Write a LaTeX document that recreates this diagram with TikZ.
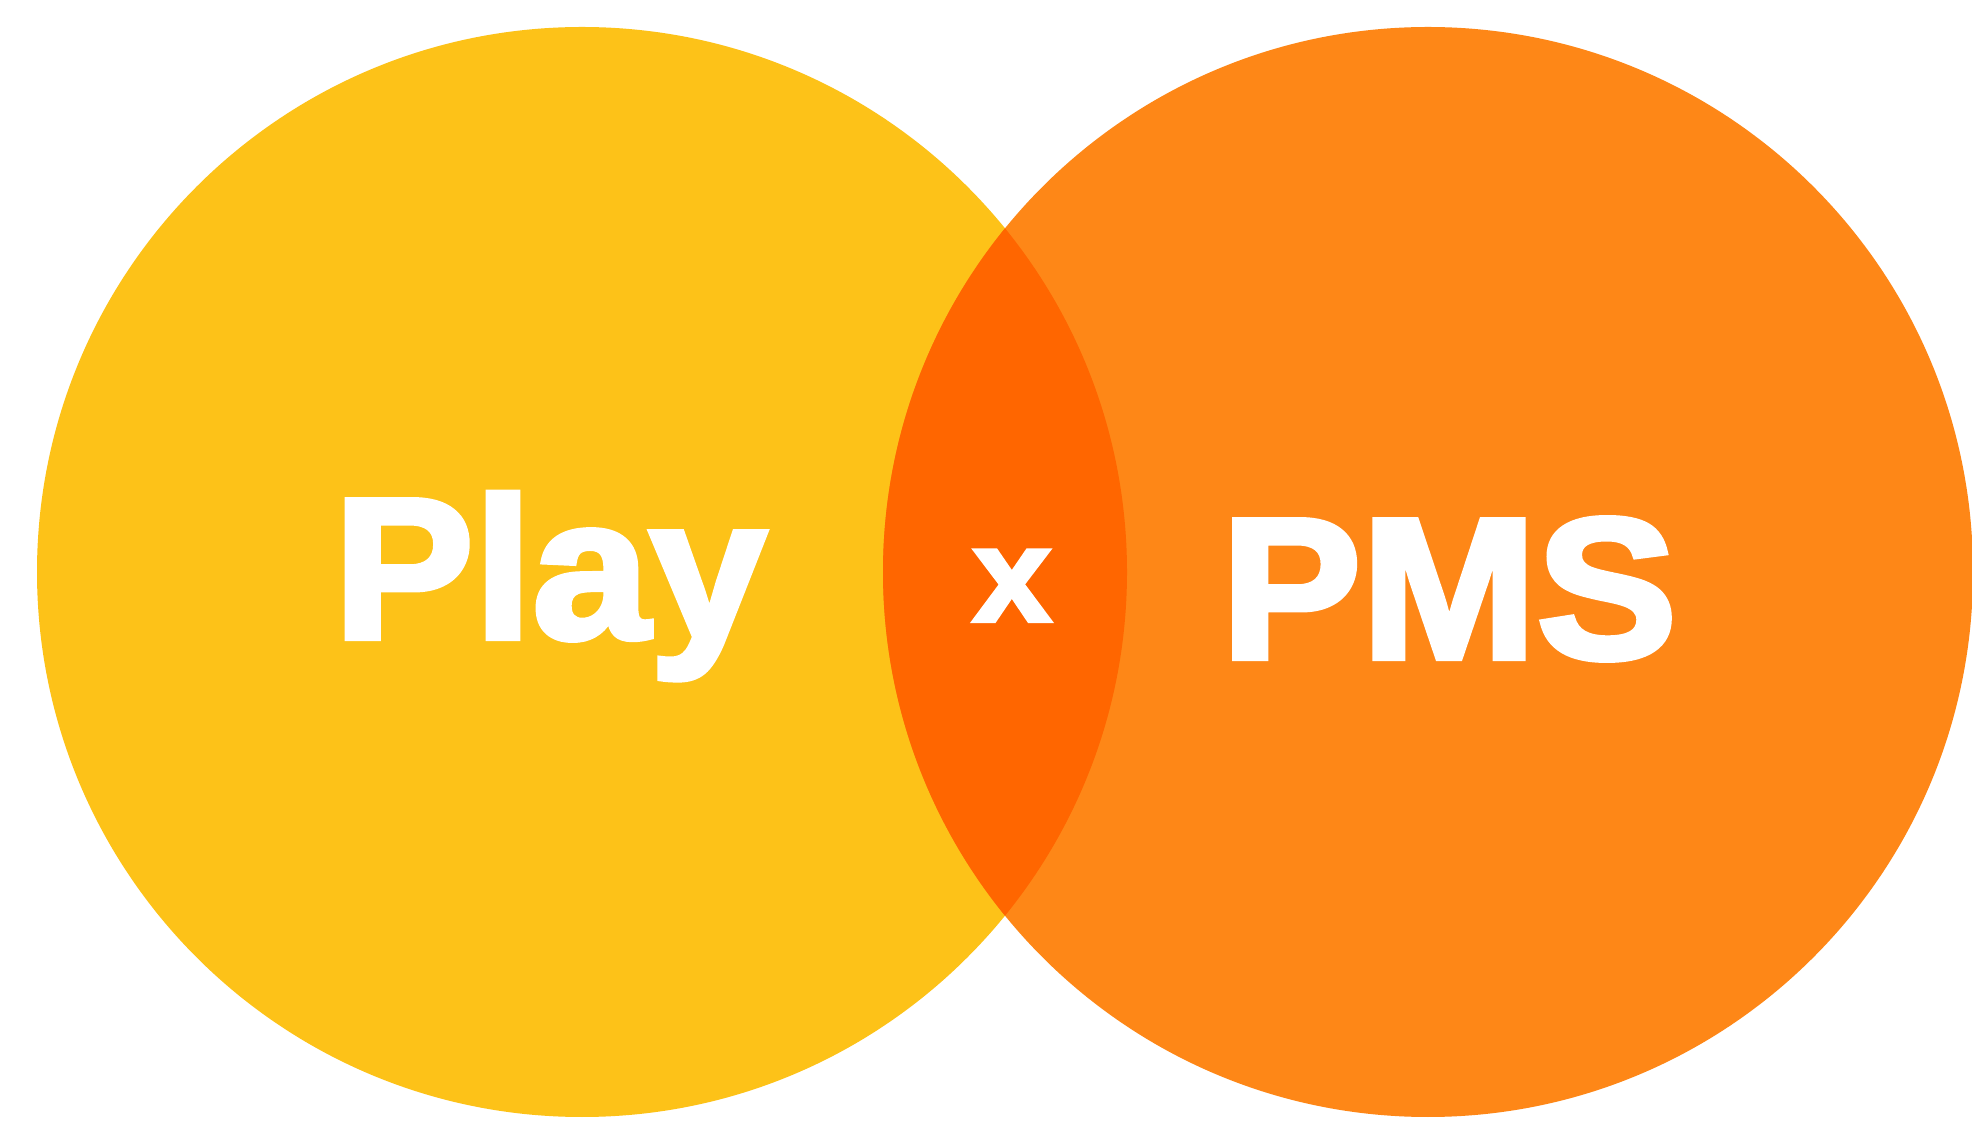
\documentclass[tikz,border=0pt]{standalone}
\usepackage{fontspec}
\setmainfont{Liberation Sans}
\newfontfamily\heavyfont[FakeBold=3, FakeStretch=1.05]{Liberation Sans Bold}
\usepackage{xcolor}
\usepackage{tikz}
\definecolor{playyellow}{HTML}{FDC218}
\definecolor{pmsorange}{HTML}{FE8717}
\definecolor{lensorange}{HTML}{FF6600}

\begin{document}
\begin{tikzpicture}[x=0.01cm, y=-0.01cm]
 	  \tikzstyle{big label}=[text=white, font=\heavyfont\fontsize{57}{60}\selectfont, inner sep=0pt, anchor=base]
 	  \tikzstyle{small label}=[text=white, font=\heavyfont\fontsize{38}{40}\selectfont, inner sep=0pt, anchor=base]
\useasboundingbox (0,0) rectangle (1972,1122);
\fill[white] (0,0) rectangle (1972,1122);
    \coordinate (left) at (582,572);
    \coordinate (right) at (1428,572);
\fill[playyellow] (left) circle (545);
\fill[pmsorange] (right) circle (545);
\begin{scope}
    \clip (left) circle (545);
    \fill[lensorange] (right) circle (545);
\end{scope}
    \node[big label] (play) at (550,638) {Play};
    \node[big label] (pms) at (1449,658) {PMS};
    \node[small label] (cross) at (1012,621) {x};
   \end{tikzpicture}
\end{document}
